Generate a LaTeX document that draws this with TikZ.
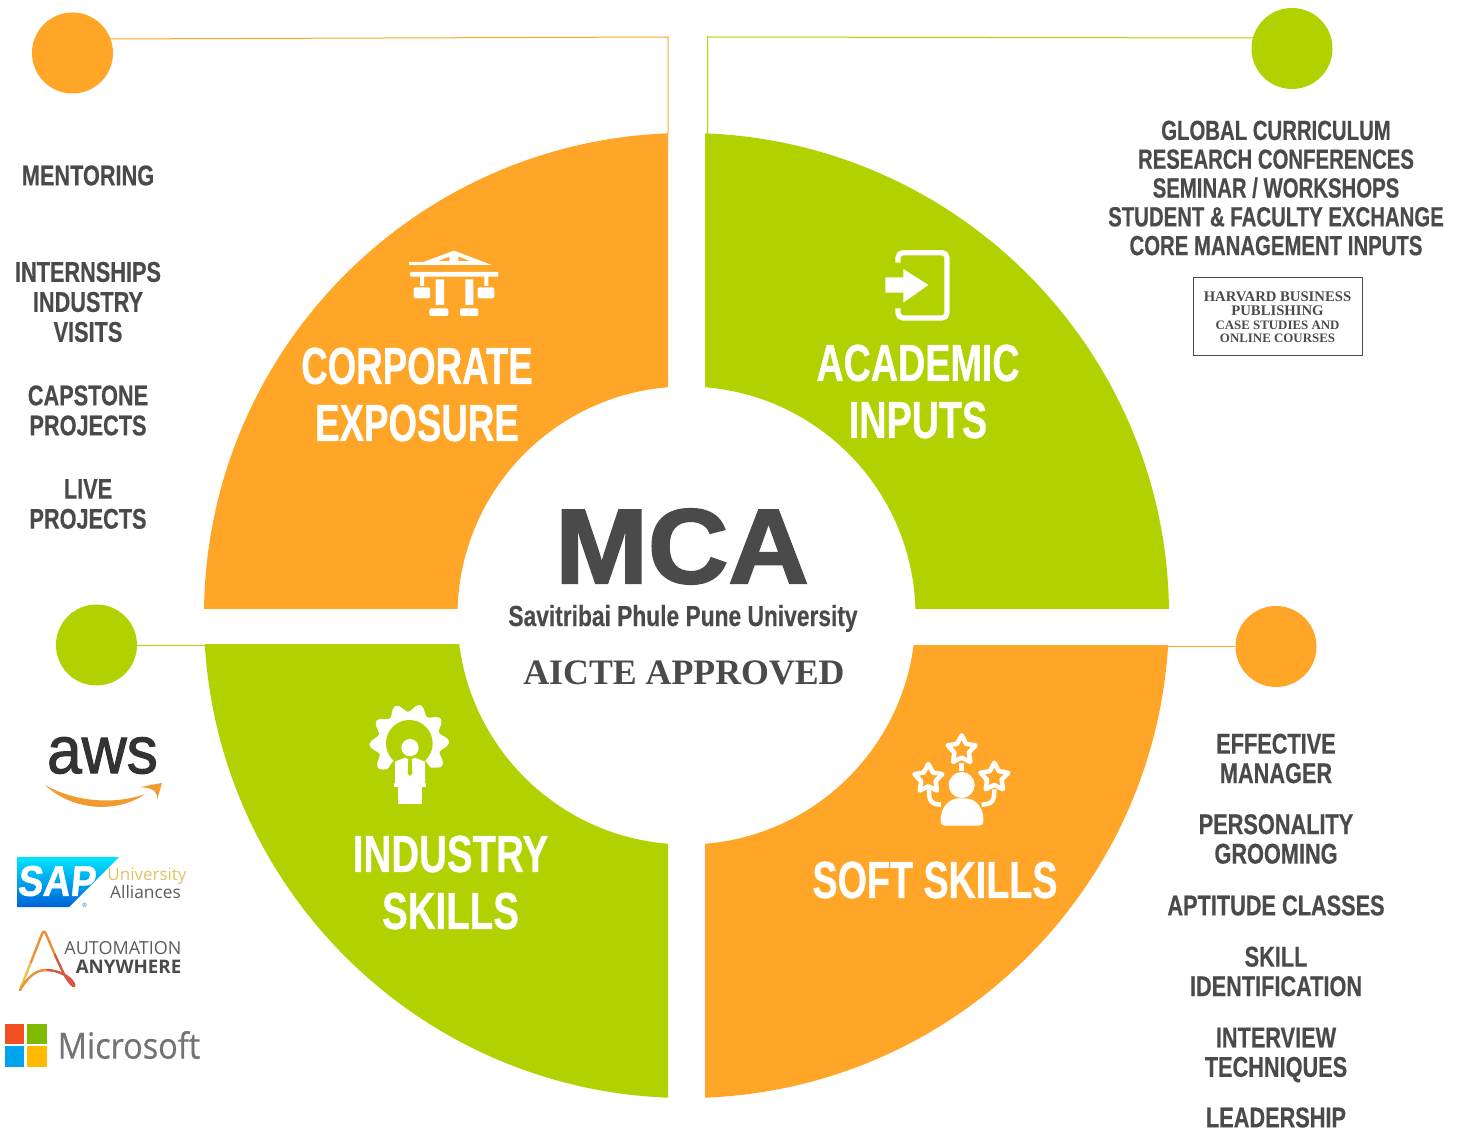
\documentclass[tikz,border=0pt]{standalone}
\usepackage{fontspec}
\setmainfont{Liberation Sans}
\newfontfamily\condf[FakeStretch=0.762,FakeBold=0.4]{Liberation Sans}
\newfontfamily\condg[FakeStretch=0.735,FakeBold=0.4]{Liberation Sans}
\newfontfamily\condh[FakeStretch=0.705,FakeBold=0.6]{Liberation Sans}
\newfontfamily\condi[FakeStretch=0.725,FakeBold=0.6]{Liberation Sans}
\newfontfamily\condj[FakeStretch=0.74,FakeBold=0.6]{Liberation Sans}
\newfontfamily\condu[FakeStretch=0.785,FakeBold=0.3]{Liberation Sans}
\newfontfamily\mcaf[FakeStretch=1.05,FakeBold=2]{Liberation Sans}
\newfontfamily\awsf[FakeStretch=0.93,FakeBold=1.6]{Liberation Sans}
\newfontfamily\sapf[FakeStretch=0.88,FakeSlant=0.1,FakeBold=1]{Liberation Sans}
\newfontfamily\serf{Liberation Serif}
\newfontfamily\opsf{Open Sans}
\newfontfamily\msf[FakeStretch=0.9,FakeBold=0.5]{Open Sans}
\definecolor{segorange}{HTML}{FFA528}
\definecolor{seggreen}{HTML}{B2D100}
\definecolor{txtgray}{HTML}{4A4A4A}
\definecolor{awsorange}{HTML}{F09A30}
\definecolor{sapgold}{HTML}{E2C263}
\definecolor{logogray}{HTML}{5C5C5C}
\definecolor{aay}{HTML}{E9C04A}
\definecolor{aao}{HTML}{E8913A}
\definecolor{aar}{HTML}{D8573F}
\definecolor{msred}{HTML}{F25022}
\definecolor{msgreen}{HTML}{7FBA00}
\definecolor{msblue}{HTML}{00A4EF}
\definecolor{msyellow}{HTML}{FFB900}
\definecolor{msgray}{HTML}{737373}
\newcommand{\starpath}[2]{(#1,#2) +(-90:44) -- +(-54:23) -- +(-18:44) -- +(18:23) -- +(54:44) -- +(90:23) -- +(126:44) -- +(162:23) -- +(198:44) -- +(234:23) -- cycle}
\tikzset{
  x=1pt,y=-1pt,
  listtext/.style={align=center,inner sep=0pt,text=txtgray,font=\condf\bfseries\fontsize{28.5}{29.5}\selectfont},
  lefttext/.style={align=center,inner sep=0pt,text=txtgray,font=\condf\bfseries\fontsize{28.5}{30}\selectfont},
  toptext/.style={align=center,inner sep=0pt,text=txtgray,font=\condg\bfseries\fontsize{27.7}{28.8}\selectfont},
  segtext/.style={align=center,inner sep=0pt,text=white,font=\condi\bfseries\fontsize{52}{57}\selectfont},
  hbtext/.style={inner sep=0pt,text=txtgray,font=\serf\bfseries\fontsize{14.7}{15}\selectfont},
  hbsmall/.style={inner sep=0pt,text=txtgray,font=\serf\bfseries\fontsize{12.9}{14}\selectfont},
  bubble/.style={circle,inner sep=0pt,minimum size=81pt},
  leader/.style={line width=1pt},
  logotext/.style={inner sep=0pt},
  iconline/.style={white,line width=4.5pt,line join=round},
}
\begin{document}
\begin{tikzpicture}
\useasboundingbox (0,0) rectangle (1461,1131);
\fill[white] (0,0) rectangle (1461,1131);
\coordinate (c) at (686.5,615.5);
% ring segments
\begin{scope}\clip (200,120) rectangle (668,608);
\fill[segorange,even odd rule] (c) circle[radius=482.5] (c) circle[radius=229];\end{scope}
\begin{scope}\clip (705,120) rectangle (1175,608);
\fill[seggreen,even odd rule] (c) circle[radius=482.5] (c) circle[radius=229];\end{scope}
\begin{scope}\clip (200,644.5) rectangle (668,1110);
\fill[seggreen,even odd rule] (c) circle[radius=482.5] (c) circle[radius=229];\end{scope}
\begin{scope}\clip (705,645) rectangle (1175,1110);
\fill[segorange,even odd rule] (c) circle[radius=482.5] (c) circle[radius=229];\end{scope}
% bubbles and leaders
\node[bubble,fill=segorange] (b1) at (72.5,53) {};
\node[bubble,fill=seggreen] (b2) at (1292,48.5) {};
\node[bubble,fill=seggreen] (b3) at (96.5,645) {};
\node[bubble,fill=segorange] (b4) at (1276,646.5) {};
\coordinate (s1) at (668,134);
\coordinate (s2) at (707.5,134);
\coordinate (s3) at (206,645);
\coordinate (s4) at (1167,646.5);
\coordinate (k1) at (668,37);
\coordinate (k2) at (707.5,37);
\draw[leader,segorange] (b1.north east |- 0,39) -- (k1) -- (s1);
\draw[leader,seggreen] (b2.north west |- 0,38) -- (k2) -- (s2);
\draw[leader,seggreen] (b3) -- (s3);
\draw[leader,segorange] (b4) -- (s4);
% segment labels
\node[segtext,font=\condh\bfseries\fontsize{52}{57}\selectfont] (t1) at (417,394.5) {CORPORATE\\EXPOSURE};
\node[segtext,font=\condi\bfseries\fontsize{52}{57}\selectfont] (t2) at (918,391.5) {ACADEMIC\\INPUTS};
\node[segtext,font=\condj\bfseries\fontsize{52}{57}\selectfont] (t3) at (450.5,882.5) {INDUSTRY\\SKILLS};
\node[segtext,font=\condi\bfseries\fontsize{52}{57}\selectfont] (t4) at (935,880) {SOFT SKILLS};
% centre
\node[inner sep=0pt,text=txtgray,font=\mcaf\bfseries\fontsize{106}{106}\selectfont] (mca) at (682,546.5) {MCA};
\node[inner sep=0pt,text=txtgray,font=\condu\bfseries\fontsize{29}{29}\selectfont] (uni) at (683,618.5) {Savitribai Phule Pune University};
\node[inner sep=0pt,text=txtgray,font=\serf\bfseries\fontsize{35.8}{36}\selectfont] (aicte) at (684,673) {AICTE APPROVED};
% left lists
\node[lefttext] (l1) at (88,175.5) {MENTORING};
\node[lefttext] (l2) at (88,302) {INTERNSHIPS\\INDUSTRY\\VISITS};
\node[lefttext] (l3) at (88,410.5) {CAPSTONE\\PROJECTS};
\node[lefttext] (l4) at (88,504) {LIVE\\PROJECTS};
% top right list
\node[toptext] (r1) at (1276,188) {GLOBAL CURRICULUM\\RESEARCH CONFERENCES\\SEMINAR / WORKSHOPS\\STUDENT \& FACULTY EXCHANGE\\CORE MANAGEMENT INPUTS};
\node[draw=txtgray,line width=1pt,minimum width=169pt,minimum height=78pt,inner sep=0pt] (hb) at (1277.5,317) {};
\node[hbtext] (hb1) at (1277.5,296.5) {HARVARD BUSINESS};
\node[hbtext] (hb2) at (1277.5,311) {PUBLISHING};
\node[hbsmall] (hb3) at (1277.5,325.5) {CASE STUDIES AND};
\node[hbsmall] (hb4) at (1277.5,338.5) {ONLINE COURSES};
% bottom right list
\node[listtext] (q1) at (1276,758.5) {EFFECTIVE\\MANAGER};
\node[listtext] (q2) at (1276,839) {PERSONALITY\\GROOMING};
\node[listtext] (q3) at (1276,905.5) {APTITUDE CLASSES};
\node[listtext] (q4) at (1276,971.5) {SKILL\\IDENTIFICATION};
\node[listtext] (q5) at (1276,1055) {INTERVIEW\\TECHNIQUES};
\node[inner sep=0pt,text=txtgray,font=\condf\bfseries\fontsize{28.5}{28.5}\selectfont] (q6) at (1276,1117.5) {LEADERSHIP};
% icon: corporate
\begin{scope}[shift={(390,240)},scale=1/3]
\fill[white] (57,66) -- (100,66) -- (192,32) -- (305,75) -- (57,75) -- cycle;
\fill[segorange] (145,63) -- (178,50) -- (178,63) -- cycle (205,50) -- (240,63) -- (205,63) -- cycle;
\fill[white,rounded corners=1pt] (60,96) rectangle (325,110);
\fill[white] (90,108) rectangle (102,138) (283,108) rectangle (295,138);
\fill[white] (137,118) rectangle (162,195) (226,118) rectangle (250,195);
\fill[white,rounded corners=2pt] (71,142) rectangle (120,175) (263,142) rectangle (313,175) (118,205) rectangle (175,228) (210,205) rectangle (265,228);
\end{scope}
% icon: academic
\begin{scope}[shift={(870,240)},scale=1/3]
\draw[white,line width=5.2pt,rounded corners=5pt] (84,68) -- (84,38) -- (231,38) -- (231,234) -- (84,234) -- (84,205);
\fill[white] (46,112) -- (100,112) -- (100,87) -- (175,135) -- (100,188) -- (100,158) -- (46,158) -- cycle;
\end{scope}
% icon: industry
\begin{scope}[shift={(360,695)},scale=1/3]
\coordinate (g) at (148,145);
\begin{scope}[shift={(148,145)}]
\fill[white] plot[domain=0:360,samples=240] (\x:{107+12*cos(10*\x+20)}) -- cycle;
\end{scope}
\fill[seggreen] (g) circle[radius=70];
\fill[seggreen] (g) -- (98,200) -- (68,245) -- (50,345) -- (250,345) -- (232,245) -- (198,200) -- cycle;
\fill[white] (150,158) circle[radius=26];
\fill[white] (105,200) -- (135,188) -- (150,195) -- (165,188) -- (195,200) -- (195,265) -- (105,265) -- cycle;
\fill[seggreen] (145,192) -- (155,192) -- (157,235) -- (150,243) -- (143,235) -- cycle;
\fill[white] (103,265) rectangle (197,275);
\fill[white] (115,275) rectangle (187,328);
\end{scope}
% icon: soft skills
\begin{scope}[shift={(905,730)},scale=1/3]
\draw[iconline] \starpath{170}{60};
\draw[iconline] \starpath{70}{146};
\draw[iconline] \starpath{268}{142};
\draw[iconline] (170,100) -- (170,122);
\draw[iconline] (72,178) .. controls (72,210) and (75,222) .. (108,224);
\draw[iconline] (268,178) .. controls (268,210) and (265,222) .. (230,224);
\fill[white] (170,165) circle[radius=39];
\fill[white,rounded corners=4pt] (107,287) .. controls (105,225) and (140,205) .. (170,205) .. controls (205,205) and (237,225) .. (235,287) -- cycle;
\end{scope}
% logos
\node[logotext,text=black!80,font=\awsf\fontsize{67}{67}\selectfont] (aws) at (102.5,755.5) {aws};
\fill[awsorange] (45,785) .. controls (75,802) and (115,805) .. (145,794) .. controls (120,812) and (75,813) .. (45,785) -- cycle;
\fill[awsorange] (140,787) -- (162,783) -- (157,800) .. controls (158,793) and (155,788) .. (140,787) -- cycle;
\shade[top color=cyan!90!blue,bottom color=blue!55!cyan!85!black] (17,857) -- (119,857) -- (69,907) -- (17,907) -- cycle;
\node[logotext,text=white,font=\sapf\bfseries\fontsize{43}{43}\selectfont] (sap) at (56,881) {SAP};
\node[logotext,text=blue!50!cyan!60!gray,font=\opsf\fontsize{6}{6}\selectfont] (reg) at (84.5,905) {®};
\node[logotext,text=sapgold,font=\opsf\fontsize{17}{17}\selectfont] (ua1) at (147,876) {University};
\node[logotext,text=logogray,font=\opsf\fontsize{17.3}{17.3}\selectfont] (ua2) at (145.5,892) {Alliances};
\begin{scope}[line width=2.4pt,line cap=round,line join=round]
\draw[aay] (20,990) -- (31,962);
\draw[aao] (31,962) -- (42,934) .. controls (43,931) and (45,931) .. (46,934) -- (55,955);
\draw[aar] (55,955) -- (62,970) .. controls (68,983) and (76,990) .. (74,984) .. controls (70,976) and (58,970) .. (46,970);
\draw[aao] (46,970) .. controls (34,970) and (26,980) .. (20,990);
\end{scope}
\node[logotext,text=logogray,font=\opsf\fontsize{18}{18}\selectfont] (aa1) at (123,948) {AUTOMATION};
\node[logotext,text=txtgray,font=\opsf\bfseries\fontsize{18.7}{19}\selectfont] (aa2) at (128.5,967) {ANYWHERE};
\fill[msred] (5,1024) rectangle (24,1043.5);
\fill[msgreen] (27,1024) rectangle (47,1043.5);
\fill[msblue] (5,1046) rectangle (24,1067);
\fill[msyellow] (27,1046) rectangle (47,1067);
\node[logotext,text=msgray,font=\msf\fontsize{36}{36}\selectfont] (ms) at (129,1045) {Microsoft};
\end{tikzpicture}
\end{document}
